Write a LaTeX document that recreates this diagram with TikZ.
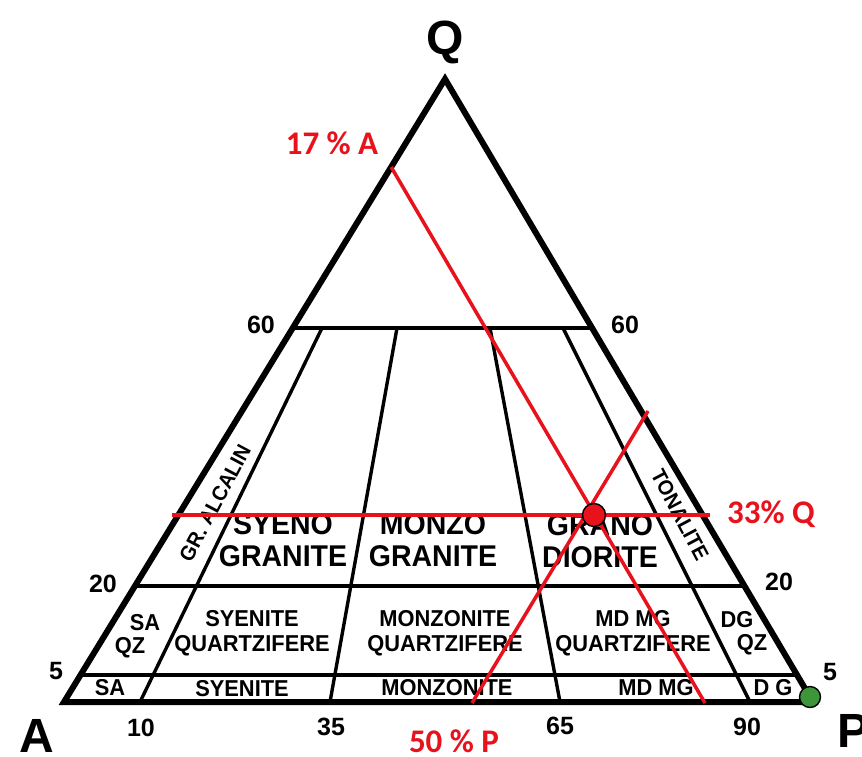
\documentclass[tikz,border=0pt]{standalone}
\usepackage{fontspec}
\setmainfont{Liberation Sans}
\newfontfamily\redfont{Carlito}
\usetikzlibrary{calc}
\definecolor{redl}{RGB}{232,18,28}
\definecolor{greenp}{RGB}{62,150,58}
\newcommand{\cz}[1]{\scalebox{0.95}[1]{#1}}
\begin{document}
\begin{tikzpicture}[x=1pt,y=-1pt,
  outline/.style={line width=6pt, line join=miter},
  divline/.style={line width=3.4pt},
  redline/.style={draw=redl, line width=3.5pt},
  toplab/.style={font=\bfseries\fontsize{30}{32}\selectfont, align=center, inner sep=0pt},
  midlab/.style={font=\bfseries\fontsize{23}{25}\selectfont, align=center, inner sep=0pt},
  rotlab/.style={font=\bfseries\fontsize{21}{21}\selectfont, inner sep=0pt},
  numlab/.style={font=\bfseries\fontsize{25}{25}\selectfont, inner sep=0pt},
  vertlab/.style={font=\bfseries\fontsize{48}{48}\selectfont, inner sep=0pt},
  redlab/.style={font=\redfont\bfseries\fontsize{33}{33}\selectfont, text=redl, inner sep=0pt},
  dotstyle/.style={circle, draw=black, line width=1.4pt, inner sep=0pt}
]
\fill[white] (0,0) rectangle (862,756);
\useasboundingbox (0,0) rectangle (862,756);

% vertices
\coordinate (A) at (64,702);
\coordinate (Q) at (445,79);
\coordinate (P) at (813,702);
% horizontal levels
\coordinate (L60) at ($(A)!0.6003!(Q)$);
\coordinate (R60) at ($(P)!0.6003!(Q)$);
\coordinate (L20) at ($(A)!0.1862!(Q)$);
\coordinate (R20) at ($(P)!0.1862!(Q)$);
\coordinate (L5) at ($(A)!0.0433!(Q)$);
\coordinate (R5) at ($(P)!0.0433!(Q)$);
% field boundaries
\coordinate (t10) at (322,328); \coordinate (b10) at (140,702);
\coordinate (t35) at (397,328); \coordinate (b35) at (330,702);
\coordinate (t65) at (490,328); \coordinate (b65) at (560,702);
\coordinate (t90) at (563,328); \coordinate (b90) at (750,702);

\draw[divline] (L60) -- (R60);
\draw[divline] (L20) -- (R20);
\draw[divline] (L5) -- (R5);
\draw[divline] (t10) -- (b10);
\draw[divline] (t35) -- (b35);
\draw[divline] (t65) -- (b65);
\draw[divline] (t90) -- (b90);
\draw[outline] (A) -- (Q) -- (P) -- cycle;

% vertex labels
\node[vertlab, anchor=base] (labQ) at (445,54) {Q};
\node[vertlab, anchor=base] (labA) at (37,752) {A};
\node[vertlab, anchor=base west] (labP) at (837,747) {P};

% scale numbers
\node[numlab] (n60l) at (261,325) {60};
\node[numlab] (n60r) at (625,325) {60};
\node[numlab] (n20l) at (103,584) {20};
\node[numlab] (n20r) at (779,582) {20};
\node[numlab] (n5l) at (56,671) {5};
\node[numlab] (n5r) at (830,672) {5};
\node[numlab] (n10) at (141,728) {10};
\node[numlab] (n35) at (331,727) {35};
\node[numlab] (n65) at (560,726) {65};
\node[numlab] (n90) at (747,727) {90};

% top band
\node[rotlab, rotate=62] (gra) at (215,503) {\cz{GR. ALCALIN}};
\node[toplab] (syg) at (283,540) {\cz{SYENO}\\\cz{GRANITE}};
\node[toplab] (mzg) at (433,540) {\cz{MONZO}\\\cz{GRANITE}};
\node[toplab] (grd) at (600,541) {\cz{GRANO}\\\cz{DIORITE}};
\node[rotlab, rotate=-62] (ton) at (680,515) {\cz{TONALITE}};

% middle band
\node[midlab] (saqz1) at (145,623) {\cz{SA}};
\node[midlab] (saqz2) at (130,648) {\cz{QZ}};
\node[midlab] (syq) at (252,633) {\cz{SYENITE}\\\cz{QUARTZIFERE}};
\node[midlab] (mzq) at (445,633) {\cz{MONZONITE}\\\cz{QUARTZIFERE}};
\node[midlab] (mdq) at (633,633) {\cz{MD MG}\\\cz{QUARTZIFERE}};
\node[midlab] (dgqz1) at (737,620) {\cz{DG}};
\node[midlab] (dgqz2) at (752,645) {\cz{QZ}};

% bottom band
\node[midlab] (sa) at (110,688) {\cz{SA}};
\node[midlab] (sy) at (242,689) {\cz{SYENITE}};
\node[midlab] (mz) at (447,688) {\cz{MONZONITE}};
\node[midlab] (md) at (656,688) {\cz{MD MG}};
\node[midlab] (dg) at (773,688) {\cz{D G}};

% red construction
\coordinate (r17) at ($(A)!0.8587!(Q)$);
\coordinate (r17b) at (705,703);
\coordinate (r33l) at (172,515);
\coordinate (r33r) at (710,515);
\coordinate (r50b) at (472,703);
\coordinate (r50t) at (648,411);
\draw[redline] (r17) -- (r17b);
\draw[redline] (r33l) -- (r33r);
\draw[redline] (r50b) -- (r50t);
\node[dotstyle, fill=redl, minimum size=23pt] (pt) at (594,515) {};
\node[dotstyle, fill=greenp, minimum size=21pt] (pdot) at (810,697) {};

\node[redlab] (l17) at (332,143) {17 \% A};
\node[redlab] (l33) at (771,514) {33\% Q};
\node[redlab] (l50) at (454,741) {50 \% P};
\end{tikzpicture}
\end{document}
